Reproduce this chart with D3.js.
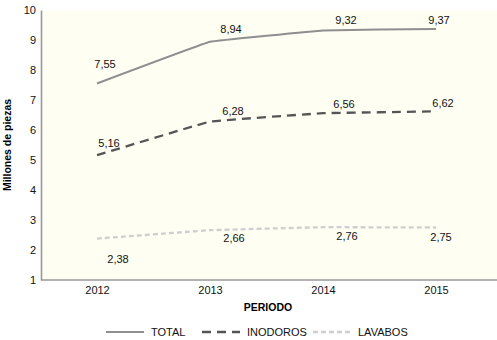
<!DOCTYPE html>
<html>
<head>
<meta charset="utf-8">
<script src="https://cdn.jsdelivr.net/npm/d3@7"></script>
<style>
  body { margin: 0; background: #fff; }
  svg { display: block; font-family: "Liberation Sans", Arial, sans-serif; }
</style>
</head>
<body>
<div id="container"></div>
<script>
const years = [2012, 2013, 2014, 2015];
const total = [7.55, 8.94, 9.32, 9.37];
const inodoros = [5.16, 6.28, 6.56, 6.62];
const lavabos = [2.38, 2.66, 2.76, 2.75];
const yTicks = [1, 2, 3, 4, 5, 6, 7, 8, 9, 10];

// label offsets (dx, dy from the point) per series
const totalOff = [[8, -16], [21, -9], [23, -6], [3, -5]];
const inodOff = [[12, -8], [23, -7], [21, -5], [7, -4]];
const lavOff = [[21, 24], [24, 12], [24, 13], [5, 13]];

const series = [
  { name: "TOTAL", values: total, color: "#8f8f8f", dash: null, width: 2, off: totalOff },
  { name: "INODOROS", values: inodoros, color: "#555555", dash: "9,6", width: 2.3, off: inodOff },
  { name: "LAVABOS", values: lavabos, color: "#cfcfcf", dash: "5,3", width: 2.3, off: lavOff }
];

const width = 497;
const height = 340;
const marginLeft = 41;
const marginTop = 10;
const marginRight = 0;
const marginBottom = 60;

const x = d3.scalePoint()
  .domain(years)
  .range([97, 436]);

const y = d3.scaleLinear()
  .domain([1, 10])
  .range([height - marginBottom, marginTop]);

const svg = d3.create("svg")
  .attr("width", width)
  .attr("height", height);

svg.append("rect")
  .attr("x", marginLeft)
  .attr("y", marginTop)
  .attr("width", width - marginLeft - marginRight)
  .attr("height", height - marginBottom - marginTop)
  .attr("fill", "#fefef3");

// y axis
const yAxis = svg.append("g")
  .attr("transform", `translate(${marginLeft},0)`)
  .call(d3.axisLeft(y).tickValues(yTicks).tickSize(0).tickPadding(5).tickFormat(d3.format("d")));
yAxis.select(".domain").attr("stroke", "#999").attr("stroke-width", 1.6);
yAxis.selectAll("text").attr("font-size", 11).attr("fill", "#111")
  .attr("font-family", "Liberation Sans, Arial, sans-serif");

// x axis
const xAxis = svg.append("g")
  .attr("transform", `translate(0,${height - marginBottom})`)
  .call(d3.axisBottom(x).tickSize(0).tickPadding(6).tickFormat(d3.format("d")));
xAxis.select(".domain").attr("d", `M${marginLeft},0H${width}`)
  .attr("stroke", "#999").attr("stroke-width", 1.6);
xAxis.selectAll("text").attr("font-size", 11).attr("fill", "#111")
  .attr("font-family", "Liberation Sans, Arial, sans-serif");

// titles
svg.append("text")
  .attr("x", 268)
  .attr("y", 311)
  .attr("text-anchor", "middle")
  .attr("font-size", 10.5)
  .attr("font-weight", "bold")
  .text("PERIODO");

svg.append("text")
  .attr("transform", "rotate(-90)")
  .attr("x", -145)
  .attr("y", 11)
  .attr("text-anchor", "middle")
  .attr("font-size", 10.5)
  .attr("font-weight", "bold")
  .text("Millones de piezas");

const line = d3.line()
  .x((d, i) => x(years[i]))
  .y(d => y(d))
  .curve(d3.curveCardinal.tension(0.85));

const fmt = v => d3.format(".2f")(v).replace(".", ",");

series.forEach(s => {
  svg.append("path")
    .datum(s.values)
    .attr("fill", "none")
    .attr("stroke", s.color)
    .attr("stroke-width", s.width)
    .attr("stroke-dasharray", s.dash)
    .attr("d", line);

  svg.append("g")
    .selectAll("text")
    .data(s.values)
    .join("text")
    .attr("x", (d, i) => x(years[i]) + s.off[i][0])
    .attr("y", (d, i) => y(d) + s.off[i][1])
    .attr("text-anchor", "middle")
    .attr("font-size", 11)
    .attr("fill", "#111")
    .text(d => fmt(d));
});

// legend
const legendX = [106, 202, 313];
const legend = svg.append("g").attr("transform", "translate(0,332)");
series.forEach((s, i) => {
  legend.append("line")
    .attr("x1", legendX[i])
    .attr("x2", legendX[i] + 38)
    .attr("y1", 0)
    .attr("y2", 0)
    .attr("stroke", s.color)
    .attr("stroke-width", s.width)
    .attr("stroke-dasharray", s.dash);
  legend.append("text")
    .attr("x", legendX[i] + 45)
    .attr("y", 4)
    .attr("font-size", 11)
    .attr("fill", "#111")
    .text(s.name);
});

document.querySelector("#container").appendChild(svg.node());
</script>
</body>
</html>
